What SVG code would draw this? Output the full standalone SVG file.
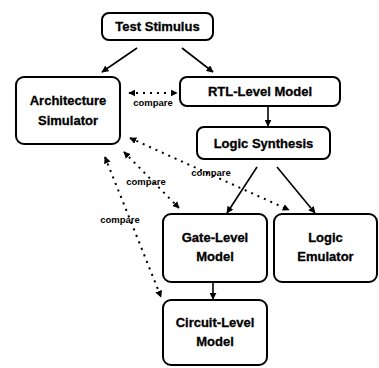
<svg xmlns="http://www.w3.org/2000/svg" width="379" height="368" viewBox="0 0 379 368">
  <defs>
    <marker id="head" viewBox="0 0 10 10" refX="9" refY="5" markerWidth="7" markerHeight="7" markerUnits="userSpaceOnUse" orient="auto-start-reverse">
      <path d="M0,0 L10,5 L0,10 z" fill="#000"/>
    </marker>
    <style>
      .box { fill: #fff; stroke: #000; stroke-width: 2; }
      .lbl { font-family: "Liberation Sans", Arial, sans-serif; font-weight: bold; font-size: 13px; text-anchor: middle; fill: #000; stroke: #000; stroke-width: 0.3; }
      .cmp { font-family: "Liberation Sans", Arial, sans-serif; font-weight: bold; font-size: 9.5px; text-anchor: middle; fill: #000; }
      .flow { stroke: #000; stroke-width: 1.6; fill: none; marker-end: url(#head); }
      .check { stroke: #000; stroke-width: 2; fill: none; stroke-dasharray: 2 5; marker-start: url(#head); marker-end: url(#head); }
    </style>
  </defs>
  <rect width="379" height="368" fill="#fff"/>

  <g id="connectors">
    <line class="flow" x1="137" y1="48" x2="102" y2="72"/>
    <line class="flow" x1="182" y1="48" x2="213" y2="72"/>
    <line class="flow" x1="268" y1="106" x2="268" y2="126"/>
    <line class="flow" x1="257" y1="167" x2="227" y2="213"/>
    <line class="flow" x1="277" y1="167" x2="315" y2="213"/>
    <line class="flow" x1="213" y1="282" x2="213" y2="299"/>

    <line class="check" x1="129" y1="93" x2="177" y2="93"/>
    <line class="check" x1="130" y1="138" x2="289" y2="210"/>
    <line class="check" x1="124" y1="152" x2="179" y2="208"/>
    <line class="check" x1="105" y1="157" x2="161" y2="297"/>

    <text class="cmp" x="153" y="106">compare</text>
    <text class="cmp" x="211" y="176">compare</text>
    <text class="cmp" x="146" y="185">compare</text>
    <text class="cmp" x="120" y="223">compare</text>
  </g>

  <g id="test-stimulus">
    <rect class="box" x="102" y="13" width="111" height="27" rx="7"/>
    <text class="lbl" x="157.5" y="31">Test Stimulus</text>
  </g>
  <g id="architecture-simulator">
    <rect class="box" x="16" y="77" width="104" height="67" rx="8"/>
    <text class="lbl" x="68" y="105">Architecture</text>
    <text class="lbl" x="68" y="125">Simulator</text>
  </g>
  <g id="rtl-model">
    <rect class="box" x="180" y="77" width="160" height="29" rx="7"/>
    <text class="lbl" x="260" y="96">RTL-Level Model</text>
  </g>
  <g id="logic-synthesis">
    <rect class="box" x="197" y="127" width="133" height="32" rx="7"/>
    <text class="lbl" x="263.5" y="148">Logic Synthesis</text>
  </g>
  <g id="gate-model">
    <rect class="box" x="163" y="214" width="104" height="68" rx="8"/>
    <text class="lbl" x="215" y="242">Gate-Level</text>
    <text class="lbl" x="215" y="261">Model</text>
  </g>
  <g id="logic-emulator">
    <rect class="box" x="274" y="214" width="103" height="68" rx="8"/>
    <text class="lbl" x="325.5" y="242">Logic</text>
    <text class="lbl" x="325.5" y="261">Emulator</text>
  </g>
  <g id="circuit-model">
    <rect class="box" x="163" y="300" width="104" height="65" rx="8"/>
    <text class="lbl" x="215" y="327">Circuit-Level</text>
    <text class="lbl" x="215" y="346">Model</text>
  </g>
</svg>
